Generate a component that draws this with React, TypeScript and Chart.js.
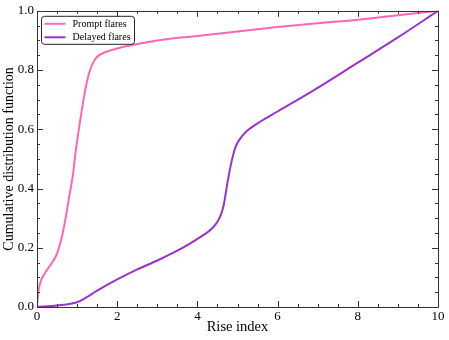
import React, { useEffect, useRef } from "react";
import { Chart, registerables } from "chart.js";

Chart.register(...registerables);

const promptX = [0, 0.02, 0.05, 0.1, 0.2, 0.3, 0.4, 0.5, 0.6, 0.7, 0.8, 0.9, 0.95, 1.0, 1.1, 1.2, 1.3, 1.4, 1.5, 1.7, 2.0, 2.5, 3, 4, 5, 6, 7, 8, 9, 10];
const promptY = [0, 0.035, 0.065, 0.09, 0.115, 0.135, 0.155, 0.18, 0.225, 0.29, 0.37, 0.45, 0.51, 0.56, 0.65, 0.73, 0.79, 0.825, 0.845, 0.86, 0.873, 0.888, 0.9, 0.915, 0.93, 0.945, 0.958, 0.97, 0.985, 1.0];

const delayedX = [0, 0.5, 1.0, 1.2, 1.5, 2, 2.5, 3, 3.5, 4, 4.4, 4.55, 4.65, 4.75, 4.85, 4.95, 5.05, 5.2, 5.5, 6, 7, 8, 9, 10];
const delayedY = [0, 0.005, 0.016, 0.03, 0.055, 0.093, 0.127, 0.157, 0.19, 0.23, 0.27, 0.3, 0.34, 0.42, 0.49, 0.54, 0.565, 0.59, 0.62, 0.66, 0.74, 0.825, 0.91, 1.0];

const seriesNames = ["Prompt flares", "Delayed flares"];
const seriesColors = ["#ff66b3", "#9933cc"];

const xTitle = "Rise index";
const yTitle = "Cumulative distribution function";

const FONT = "'Liberation Serif', 'Times New Roman', serif";
const AXIS_COLOR = "#333333";

const frameTicksPlugin = {
  id: "frameTicks",
  afterDraw(chart: any) {
    const ctx = chart.ctx;
    const { left, right, top, bottom } = chart.chartArea;
    const xs = chart.scales.x;
    const ys = chart.scales.y;
    ctx.save();
    ctx.strokeStyle = AXIS_COLOR;
    ctx.lineWidth = 1;
    ctx.beginPath();
    ctx.rect(Math.round(left) + 0.5, Math.round(top) + 0.5, Math.round(right - left), Math.round(bottom - top));
    ctx.stroke();
    ctx.beginPath();
    for (let v = 0; v <= 10.0001; v += 0.5) {
      const major = Math.abs(v / 2 - Math.round(v / 2)) < 1e-6;
      const len = major ? 6 : 3;
      const px = Math.round(xs.getPixelForValue(v)) + 0.5;
      ctx.moveTo(px, bottom);
      ctx.lineTo(px, bottom - len);
      ctx.moveTo(px, top);
      ctx.lineTo(px, top + len);
    }
    for (let i = 0; i <= 20; i++) {
      const v = i * 0.05;
      const major = i % 4 === 0;
      const len = major ? 6 : 3;
      const py = Math.round(ys.getPixelForValue(v)) + 0.5;
      ctx.moveTo(left, py);
      ctx.lineTo(left + len, py);
      ctx.moveTo(right, py);
      ctx.lineTo(right - len, py);
    }
    ctx.stroke();

    // legend box
    const bx = left + 4.5;
    const by = top + 5.5;
    const bw = 93;
    const bh = 28;
    const r = 3;
    ctx.beginPath();
    ctx.moveTo(bx + r, by);
    ctx.lineTo(bx + bw - r, by);
    ctx.quadraticCurveTo(bx + bw, by, bx + bw, by + r);
    ctx.lineTo(bx + bw, by + bh - r);
    ctx.quadraticCurveTo(bx + bw, by + bh, bx + bw - r, by + bh);
    ctx.lineTo(bx + r, by + bh);
    ctx.quadraticCurveTo(bx, by + bh, bx, by + bh - r);
    ctx.lineTo(bx, by + r);
    ctx.quadraticCurveTo(bx, by, bx + r, by);
    ctx.closePath();
    ctx.fillStyle = "#ffffff";
    ctx.fill();
    ctx.strokeStyle = "#222222";
    ctx.stroke();
    ctx.font = "10px " + FONT;
    ctx.textBaseline = "middle";
    ctx.textAlign = "left";
    seriesNames.forEach((name, i) => {
      const yy = by + 7.5 + i * 13.5;
      ctx.strokeStyle = seriesColors[i];
      ctx.lineWidth = 2;
      ctx.beginPath();
      ctx.moveTo(bx + 3, yy);
      ctx.lineTo(bx + 24, yy);
      ctx.stroke();
      ctx.fillStyle = "#000000";
      ctx.fillText(name, bx + 31, yy + 0.5);
    });
    ctx.restore();
  },
};

export default function App() {
  const ref = useRef<HTMLCanvasElement | null>(null);
  useEffect(() => {
    if (!ref.current) return;
    const chart = new Chart(ref.current, {
      type: "line",
      data: {
        datasets: [
          {
            label: seriesNames[0],
            data: promptX.map((x, i) => ({ x, y: promptY[i] })),
            borderColor: seriesColors[0],
            backgroundColor: seriesColors[0],
            borderWidth: 2,
            pointRadius: 0,
            cubicInterpolationMode: "monotone",
          },
          {
            label: seriesNames[1],
            data: delayedX.map((x, i) => ({ x, y: delayedY[i] })),
            borderColor: seriesColors[1],
            backgroundColor: seriesColors[1],
            borderWidth: 2,
            pointRadius: 0,
            cubicInterpolationMode: "monotone",
          },
        ],
      },
      options: {
        animation: false,
        responsive: false,
        layout: { padding: { top: 8, right: 11, left: 0, bottom: 0 } },
        plugins: { legend: { display: false }, tooltip: { enabled: false } },
        scales: {
          x: {
            type: "linear",
            min: 0,
            max: 10,
            grid: { display: false, drawTicks: false },
            border: { display: false },
            ticks: {
              stepSize: 2,
              padding: 2,
              color: "#000",
              font: { family: FONT, size: 13 },
              callback: (v: any) => String(v),
            },
            title: {
              display: true,
              text: xTitle,
              color: "#000",
              font: { family: FONT, size: 14.5 },
              padding: { top: 0, bottom: 4 },
            },
            afterFit: (s: any) => {
              s.height = 33;
            },
          },
          y: {
            type: "linear",
            min: 0,
            max: 1,
            grid: { display: false, drawTicks: false },
            border: { display: false },
            ticks: {
              stepSize: 0.2,
              padding: 3,
              color: "#000",
              font: { family: FONT, size: 13 },
              callback: (v: any) => Number(v).toFixed(1),
            },
            title: {
              display: true,
              text: yTitle,
              color: "#000",
              font: { family: FONT, size: 14 },
              padding: { top: 1, bottom: 0 },
            },
            afterFit: (s: any) => {
              s.width = 37;
            },
          },
        },
      },
      plugins: [frameTicksPlugin],
    });
    return () => chart.destroy();
  }, []);
  return (
    <div style={{ position: "absolute", left: 0, top: 0, width: 449, height: 340, background: "#fff" }}>
      <canvas ref={ref} width={449} height={340} style={{ display: "block" }} />
    </div>
  );
}
